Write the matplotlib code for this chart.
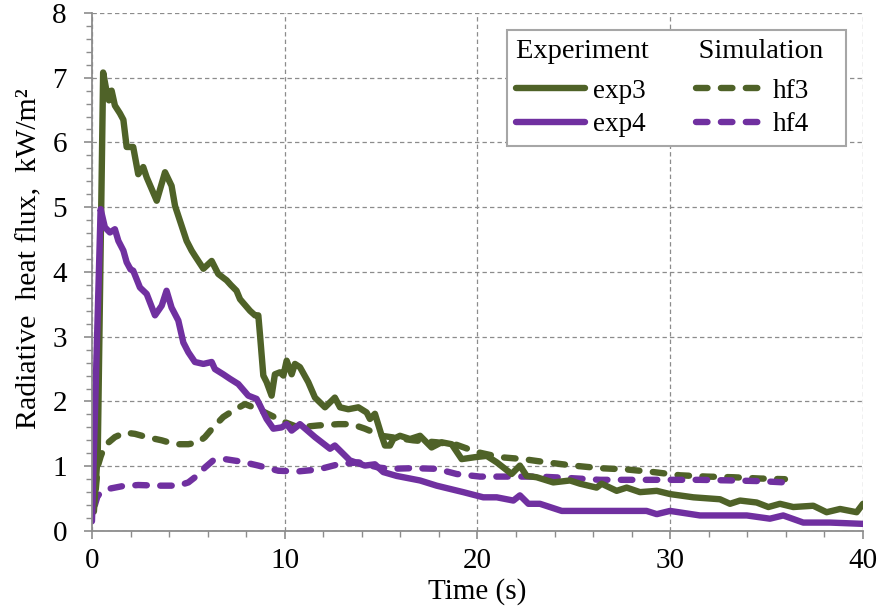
import matplotlib
matplotlib.use("Agg")
import matplotlib.pyplot as plt
from matplotlib.ticker import MultipleLocator

plt.rcParams['font.family'] = ['Liberation Serif', 'DejaVu Serif']

# Measured radiative heat flux (experiment) and simulated values
exp3_t = [0.1, 0.3, 0.58, 0.72, 0.88, 1.02, 1.19, 1.45, 1.63, 1.8, 2.14, 2.4, 2.66, 2.84,
          3.36, 3.79, 4.13, 4.31, 4.91, 5.17, 5.34, 5.78, 6.21, 6.55, 6.99, 7.2, 7.5, 7.68,
          8.2, 8.46, 8.63, 8.72, 8.89, 9.06, 9.32, 9.49, 9.75, 9.93, 10.1, 10.36, 10.53,
          10.79, 11.22, 11.57, 12.09, 12.6, 12.87, 13.3, 13.82, 14.25, 14.42, 14.68, 15.03,
          15.2, 15.46, 15.63, 15.98, 16.5, 17.02, 17.62, 18.14, 18.66, 19.18, 19.87, 20.48,
          21.0, 21.43, 21.77, 22.2, 22.55, 23.07, 23.93, 24.8, 25.32, 26.18, 26.44, 27.22,
          27.74, 28.43, 29.3, 29.99, 31.2, 32.58, 33.1, 33.62, 34.48, 35.09, 35.69, 36.38,
          37.42, 38.11, 38.81, 39.67, 40.0]
exp3_q = [0.3, 1.2, 7.08, 6.85, 6.65, 6.8, 6.57, 6.45, 6.35, 5.93, 5.93, 5.51, 5.62, 5.46,
          5.1, 5.54, 5.33, 5.02, 4.48, 4.33, 4.25, 4.05, 4.17, 3.97, 3.87, 3.8, 3.71, 3.58,
          3.40, 3.33, 3.33, 3.02, 2.40, 2.30, 2.09, 2.42, 2.45, 2.40, 2.63, 2.42, 2.58,
          2.53, 2.30, 2.06, 1.91, 2.06, 1.91, 1.88, 1.91, 1.83, 1.73, 1.81, 1.47,
          1.32, 1.32, 1.42, 1.47, 1.42, 1.47, 1.29, 1.37, 1.34, 1.11, 1.14, 1.16,
          1.06, 0.96, 0.88, 1.01, 0.85, 0.83, 0.75, 0.78, 0.73, 0.67, 0.73, 0.62,
          0.67, 0.60, 0.62, 0.57, 0.52, 0.49, 0.42, 0.47, 0.44, 0.37, 0.42, 0.37,
          0.39, 0.29, 0.34, 0.29, 0.42]

exp4_t = [0.0, 0.45, 0.67, 0.93, 1.19, 1.37, 1.63, 1.8, 2.0, 2.14, 2.49, 2.84, 3.27, 3.62,
          3.87, 4.13, 4.48, 4.74, 5.0, 5.34, 5.78, 6.21, 6.38, 6.81, 7.16, 7.59, 8.11,
          8.54, 8.7, 9.06, 9.41, 9.84, 10.1, 10.36, 10.79, 11.57, 12.35, 12.6, 13.38,
          14.16, 14.68, 15.11, 15.81, 17.02, 17.88, 19.26, 20.3, 21.0, 21.86, 22.2, 22.64,
          23.24, 24.37, 26.7, 28.77, 29.3, 29.99, 31.54, 33.97, 35.17, 35.86, 36.9, 38.29,
          40.0]
exp4_q = [0.15, 4.97, 4.69, 4.61, 4.66, 4.48, 4.33, 4.15, 4.04, 4.02, 3.76, 3.66, 3.33, 3.48,
          3.71, 3.45, 3.25, 2.91, 2.76, 2.61, 2.58, 2.61, 2.50, 2.42, 2.35, 2.27, 2.09,
          2.04, 1.95, 1.73, 1.58, 1.60, 1.65, 1.55, 1.65, 1.45, 1.27, 1.32, 1.09,
          1.01, 1.03, 0.91, 0.85, 0.78, 0.70, 0.60, 0.52, 0.52, 0.47, 0.55, 0.42,
          0.42, 0.31, 0.31, 0.31, 0.26, 0.31, 0.24, 0.24, 0.19, 0.24, 0.13, 0.13,
          0.11]

hf3_t = [0.2, 0.3, 0.45, 0.67, 1.19, 1.71, 2.23, 2.84, 3.62, 4.31, 5.0, 5.52, 5.86, 6.29,
         6.81, 7.33, 7.94, 8.63, 9.32, 10.01, 10.7, 11.74, 12.78, 13.47, 14.16, 15.03,
         16.67, 17.88, 18.92, 19.96, 21.17, 22.38, 23.59, 24.97, 26.36, 27.74, 29.12,
         30.51, 31.89, 33.27, 34.66, 35.95]
hf3_q = [0.65, 1.0, 1.15, 1.32, 1.45, 1.52, 1.50, 1.45, 1.40, 1.34, 1.34, 1.37, 1.45, 1.60,
         1.76, 1.86, 1.96, 1.88, 1.78, 1.68, 1.60, 1.63, 1.65, 1.65, 1.58, 1.47,
         1.40, 1.37, 1.33, 1.22, 1.14, 1.11, 1.06, 1.01, 0.97, 0.95, 0.91,
         0.86, 0.84, 0.83, 0.81, 0.80]

hf4_t = [0.15, 0.3, 0.85, 1.54, 2.4, 3.44, 4.48, 5.0, 5.43, 5.86, 6.29, 6.9, 7.77, 8.63,
         9.67, 10.7, 11.74, 12.78, 13.82, 14.86, 15.46, 16.67, 17.88, 18.92, 20.13,
         21.86, 23.24, 24.63, 26.36, 28.1, 29.82, 31.54, 33.27, 34.66, 35.95]
hf4_q = [0.40, 0.55, 0.65, 0.69, 0.71, 0.70, 0.70, 0.75, 0.85, 0.98, 1.09, 1.11, 1.07, 1.01,
         0.93, 0.92, 0.95, 1.03, 1.06, 0.98, 0.96, 0.97, 0.96, 0.88, 0.84,
         0.84, 0.84, 0.82, 0.79, 0.79, 0.79, 0.79, 0.78, 0.77, 0.75]

x_ticks = [0, 10, 20, 30, 40]
y_ticks = [0, 1, 2, 3, 4, 5, 6, 7, 8]

GREEN = '#4f6228'
PURPLE = '#7030a0'
AXIS_GRAY = '#8c8c8c'

fig = plt.figure(figsize=(8.8, 6.16), dpi=100)
ax = fig.add_axes([0.1045, 0.138, 0.8762, 0.841])

lw = 4.6
dash_kw = dict(linestyle=(0, (1.8, 2.1)), dash_capstyle='round')
solid_kw = dict(linestyle='-', solid_joinstyle='round', solid_capstyle='round')

l_hf3, = ax.plot(hf3_t, hf3_q, color=GREEN, lw=lw, **dash_kw)
l_hf4, = ax.plot(hf4_t, hf4_q, color=PURPLE, lw=lw, **dash_kw)
l_exp3, = ax.plot(exp3_t, exp3_q, color=GREEN, lw=lw, **solid_kw)
l_exp4, = ax.plot(exp4_t, exp4_q, color=PURPLE, lw=lw, **solid_kw)

ax.set_xlim(0, 40)
ax.set_ylim(0, 8)
ax.set_xticks(x_ticks)
ax.set_yticks(y_ticks)
ax.xaxis.set_minor_locator(MultipleLocator(2))
ax.yaxis.set_minor_locator(MultipleLocator(0.2))

ax.grid(True, which='major', color=AXIS_GRAY, lw=0.9, linestyle=(0, (3.5, 2.5)))
ax.set_axisbelow(True)

for side in ('top', 'right'):
    ax.spines[side].set_visible(False)
for side in ('left', 'bottom'):
    ax.spines[side].set_color(AXIS_GRAY)
    ax.spines[side].set_linewidth(1.3)

ax.tick_params(which='major', direction='out', length=6, width=1.2, color=AXIS_GRAY,
               labelsize=21)
ax.tick_params(which='minor', direction='out', length=4.3, width=1.0, color=AXIS_GRAY)
ax.tick_params(axis='x', which='major', pad=6.5)
ax.tick_params(axis='y', which='major', pad=12)

ax.set_xlabel('Time (s)', fontsize=21, labelpad=3)
ax.set_ylabel('Radiative  heat flux,  kW/m\u00b2', fontsize=21.5, labelpad=7)
ax.yaxis.label.set_y(0.526)

leg = ax.legend([l_exp3, l_exp4, l_hf3, l_hf4], ['exp3', 'exp4', 'hf3', 'hf4'],
                ncol=2, loc='upper right', bbox_to_anchor=(1.0, 1.0),
                borderaxespad=0.62, fontsize=19.5,
                title='Experiment       Simulation  ', title_fontsize=20.5,
                alignment='left', frameon=True, fancybox=False, framealpha=1,
                edgecolor='#a6a6a6', handlelength=2.55, handletextpad=0.3,
                columnspacing=1.85, labelspacing=0.3, borderpad=0.33)
leg.get_frame().set_linewidth(1.5)
# extra room between the column headings and the first row
leg._legend_box.sep = 11

fig.savefig('out.png', dpi=100)
